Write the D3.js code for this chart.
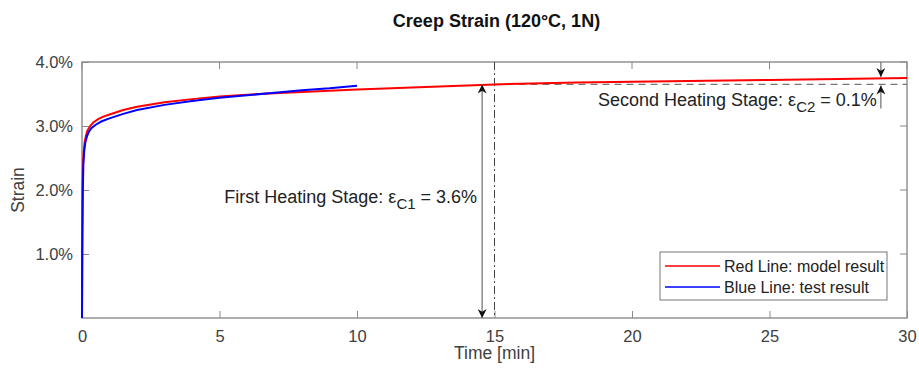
<!DOCTYPE html>
<html>
<head>
<meta charset="utf-8">
<script src="https://cdn.jsdelivr.net/npm/d3@7"></script>
<style>
  body { margin: 0; background: #fff; }
  svg text { font-family: "Liberation Sans", Arial, sans-serif; }
</style>
</head>
<body>
<svg id="chart" width="919" height="369"></svg>
<script>
// Data (time in min, strain in %)
var modelTime   = [0, 0.01, 0.02, 0.04, 0.06, 0.1, 0.15, 0.2, 0.3, 0.4, 0.6, 0.8, 1, 1.5, 2, 3, 4, 5, 6, 7, 8, 10, 12, 15, 18, 20, 25, 30];
var modelStrain = [0, 1.2, 2.1, 2.45, 2.6, 2.76, 2.86, 2.93, 3.0, 3.05, 3.11, 3.15, 3.18, 3.25, 3.3, 3.37, 3.42, 3.46, 3.49, 3.51, 3.53, 3.57, 3.6, 3.65, 3.68, 3.69, 3.72, 3.75];

var testTime   = [0, 0.01, 0.03, 0.05, 0.08, 0.12, 0.18, 0.25, 0.35, 0.5, 0.7, 1, 1.5, 2, 3, 4, 5, 6, 7, 8, 9, 10];
var testStrain = [0, 1.0, 2.0, 2.4, 2.6, 2.74, 2.84, 2.91, 2.97, 3.02, 3.07, 3.12, 3.19, 3.25, 3.33, 3.39, 3.44, 3.48, 3.52, 3.56, 3.59, 3.63];

var xTicks = [0, 5, 10, 15, 20, 25, 30];
var yTicks = [1, 2, 3, 4];

var stageSplit = 15;     // end of first heating stage
var stage1End = 3.65;    // strain at split
var stage2End = 3.75;    // strain at end
var arrow1X = 14.55, arrow2X = 29.05;

var margin = {top: 62, right: 12, bottom: 51, left: 82},
    width = 919 - margin.left - margin.right,
    height = 369 - margin.top - margin.bottom;

var xScale = d3.scaleLinear().domain([0, 30]).range([0, width]);
var yScale = d3.scaleLinear().domain([0, 4]).range([height, 0]);

var svg = d3.select('#chart');

// arrow heads
var defs = svg.append('defs');
defs.append('marker')
    .attr('id', 'head')
    .attr('viewBox', '0 0 10 10')
    .attr('refX', 10).attr('refY', 5)
    .attr('markerWidth', 11).attr('markerHeight', 9)
    .attr('markerUnits', 'userSpaceOnUse')
    .attr('orient', 'auto-start-reverse')
    .append('path')
    .attr('d', 'M0,0 L10,5 L0,10 L3,5 Z')
    .attr('fill', '#111');

svg.append('text')
    .attr('x', margin.left + width / 2 + 2)
    .attr('y', 27)
    .attr('text-anchor', 'middle')
    .attr('font-size', 18)
    .attr('font-weight', 'bold')
    .attr('fill', '#111')
    .text('Creep Strain (120°C, 1N)');

var g = svg.append('g')
    .attr('transform', 'translate(' + margin.left + ',' + margin.top + ')');

// Axes
var axisColor = '#8a8a8a', labelColor = '#404040';
var xAxis = d3.axisBottom(xScale).tickValues(xTicks).tickSize(-7).tickPadding(12);
var yAxis = d3.axisLeft(yScale).tickValues(yTicks).tickSize(-7).tickPadding(9)
    .tickFormat(function(d) { return d.toFixed(1) + '%'; });

var gx = g.append('g').attr('transform', 'translate(0,' + height + ')').call(xAxis);
var gy = g.append('g').call(yAxis);
[gx, gy].forEach(function(ax) {
  ax.select('.domain').remove();
  ax.selectAll('line').attr('stroke', axisColor);
  ax.selectAll('text').attr('font-size', 16.5).attr('fill', labelColor)
    .style('font-family', '"Liberation Sans", Arial, sans-serif');
});
// top/right ticks
g.append('g').selectAll('line').data(xTicks).enter().append('line')
    .attr('x1', function(d) { return xScale(d); }).attr('x2', function(d) { return xScale(d); })
    .attr('y1', 0).attr('y2', 7).attr('stroke', axisColor);
g.append('g').selectAll('line').data(yTicks).enter().append('line')
    .attr('x1', width).attr('x2', width - 7)
    .attr('y1', function(d) { return yScale(d); }).attr('y2', function(d) { return yScale(d); })
    .attr('stroke', axisColor);

g.append('rect')
    .attr('width', width).attr('height', height)
    .attr('fill', 'none').attr('stroke', axisColor).attr('stroke-width', 1.4);

// Axis labels
svg.append('text')
    .attr('x', margin.left + width / 2).attr('y', 359)
    .attr('text-anchor', 'middle').attr('font-size', 17.5).attr('fill', labelColor)
    .text('Time [min]');
svg.append('text')
    .attr('transform', 'translate(24,' + (margin.top + height / 2) + ') rotate(-90)')
    .attr('text-anchor', 'middle').attr('font-size', 17.5).attr('fill', labelColor)
    .text('Strain');

// Stage split line (dash-dot) and reference dashed line
g.append('line')
    .attr('x1', xScale(stageSplit)).attr('x2', xScale(stageSplit))
    .attr('y1', 0).attr('y2', height)
    .attr('stroke', '#444').attr('stroke-width', 1)
    .attr('stroke-dasharray', '8,3,2,3');
g.append('line')
    .attr('x1', xScale(stageSplit)).attr('x2', width)
    .attr('y1', yScale(stage1End)).attr('y2', yScale(stage1End))
    .attr('stroke', '#777').attr('stroke-width', 1.2)
    .attr('stroke-dasharray', '7,5');

// Curves
var line = d3.line()
    .x(function(d) { return xScale(d[0]); })
    .y(function(d) { return yScale(d[1]); });

var series = [
  {name: 'Red Line: model result', color: '#ff0000', pts: d3.zip(modelTime, modelStrain)},
  {name: 'Blue Line: test result', color: '#0000ff', pts: d3.zip(testTime, testStrain)}
];

g.selectAll('.series').data(series).enter().append('path')
    .attr('class', 'series')
    .attr('d', function(d) { return line(d.pts); })
    .attr('fill', 'none')
    .attr('stroke', function(d) { return d.color; })
    .attr('stroke-width', 2);

// First stage double arrow
g.append('line')
    .attr('x1', xScale(arrow1X)).attr('x2', xScale(arrow1X))
    .attr('y1', yScale(stage1End)).attr('y2', yScale(0))
    .attr('stroke', '#777').attr('stroke-width', 1.3)
    .attr('marker-start', 'url(#head)').attr('marker-end', 'url(#head)');

var t1 = g.append('text')
    .attr('x', xScale(arrow1X) - 5).attr('y', yScale(1.8))
    .attr('text-anchor', 'end').attr('font-size', 18).attr('fill', '#222');
t1.append('tspan').text('First Heating Stage: ε');
t1.append('tspan').attr('dy', 6).attr('font-size', 15).text('C1');
t1.append('tspan').attr('dy', -6).text(' = 3.6%');

// Second stage arrows
g.append('line')
    .attr('x1', xScale(arrow2X)).attr('x2', xScale(arrow2X))
    .attr('y1', 0).attr('y2', yScale(stage2End) - 1)
    .attr('stroke', '#777').attr('stroke-width', 1.3)
    .attr('marker-end', 'url(#head)');
g.append('line')
    .attr('x1', xScale(arrow2X)).attr('x2', xScale(arrow2X))
    .attr('y1', yScale(stage1End) + 24).attr('y2', yScale(stage1End) + 1)
    .attr('stroke', '#777').attr('stroke-width', 1.3)
    .attr('marker-end', 'url(#head)');

var t2 = g.append('text')
    .attr('x', xScale(arrow2X) - 4).attr('y', yScale(3.32))
    .attr('text-anchor', 'end').attr('font-size', 18).attr('fill', '#222');
t2.append('tspan').text('Second Heating Stage: ε');
t2.append('tspan').attr('dy', 6).attr('font-size', 15).text('C2');
t2.append('tspan').attr('dy', -6).text(' = 0.1%');

// Legend
var legend = g.append('g').attr('transform', 'translate(' + (width - 247) + ',' + (height - 66) + ')');
legend.append('rect')
    .attr('width', 227).attr('height', 48)
    .attr('fill', '#fff').attr('stroke', '#777').attr('stroke-width', 1);
var items = legend.selectAll('.item').data(series).enter().append('g')
    .attr('transform', function(d, i) { return 'translate(0,' + (14 + i * 21) + ')'; });
items.append('line')
    .attr('x1', 5).attr('x2', 60).attr('y1', 0).attr('y2', 0)
    .attr('stroke', function(d) { return d.color; }).attr('stroke-width', 1.6);
items.append('text')
    .attr('x', 64).attr('y', 6)
    .attr('font-size', 16).attr('fill', '#222')
    .text(function(d) { return d.name; });
</script>
</body>
</html>
